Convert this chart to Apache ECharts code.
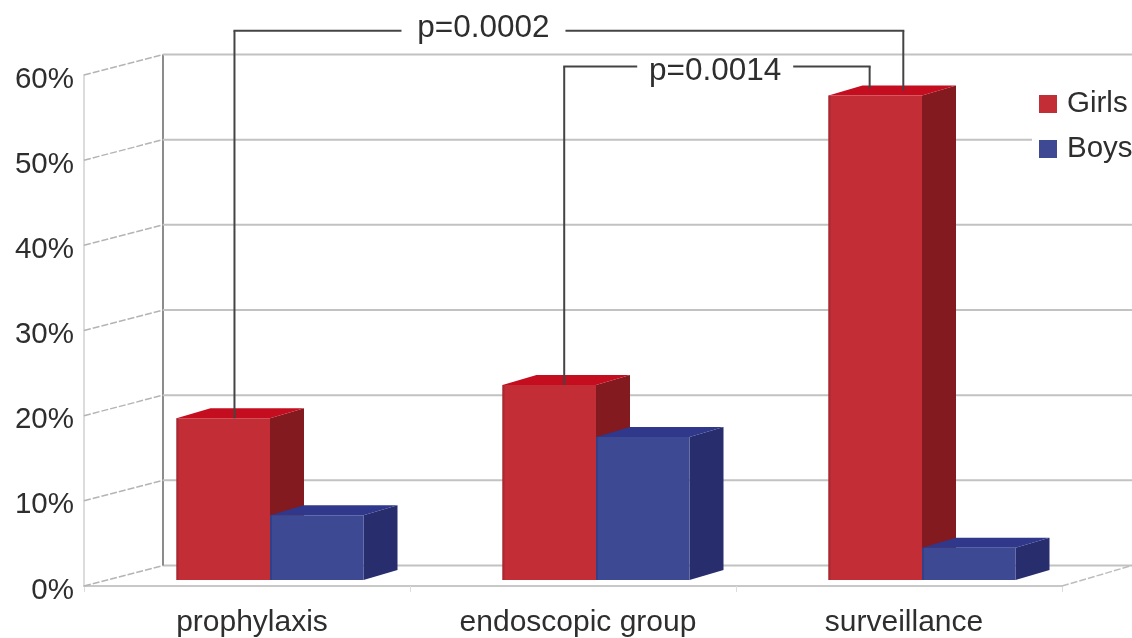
<!DOCTYPE html>
<html><head><meta charset="utf-8">
<style>html,body{margin:0;padding:0;background:#fff}#c{width:1132px;height:638px;filter:blur(0.6px)}</style>
<script src="https://cdn.jsdelivr.net/npm/echarts@6/dist/echarts.min.js"></script>
</head><body><div id="c"></div>
<script>
const categories = ['prophylaxis', 'endoscopic group', 'surveillance'];
const girls = [19, 22.9, 56.9];
const boys = [7.6, 16.8, 3.8];
const yTicks = [0, 10, 20, 30, 40, 50, 60];
const pValues = ['p=0.0002', 'p=0.0014'];
const bracketFromCategory = [0, 1];
const bracketToCategory = [2, 2];
const bracketLevels = [65.2, 61];

const FONT = '"Liberation Sans", Arial, sans-serif';
const FONT_SIZE = 29.5;
const TEXT = '#2e2e2e';
const WALL_DX = 79, WALL_DY = -20.5;
const BAR_W = 93.5, BAR_DX = 34, BAR_DY = -10, GROUP_SHIFT = 23, GROUND = -6;
const redFace = { front: '#c32d36', side: '#831a1f', top: '#c40d1e', edge: '#a52a33' };
const blueFace = { front: '#3d4a93', side: '#272d6d', top: '#2f388a', edge: '#333f86' };

function box(x0, y0, yTop, c) {
  const x1 = x0 + BAR_W;
  const poly = (points, fill) => ({ type: 'polygon', shape: { points }, style: { fill }, silent: true });
  return {
    type: 'group',
    children: [
      poly([[x1, y0], [x1 + BAR_DX, y0 + BAR_DY], [x1 + BAR_DX, yTop + BAR_DY], [x1, yTop]], c.side),
      poly([[x0, yTop], [x0 + BAR_DX, yTop + BAR_DY], [x1 + BAR_DX, yTop + BAR_DY], [x1, yTop]], c.top),
      { type: 'rect', shape: { x: x0, y: yTop, width: BAR_W, height: y0 - yTop }, style: { fill: c.front }, silent: true },
      { type: 'rect', shape: { x: x0, y: yTop, width: 2, height: y0 - yTop }, style: { fill: c.edge }, silent: true }
    ]
  };
}
const barRenderer = (faces, startOffset) => (params, api) => {
  const base = api.coord([api.value(0), 0]);
  const top = api.coord([api.value(0), api.value(1)]);
  const left = base[0] + GROUP_SHIFT + startOffset;
  return box(left, base[1] + GROUND, top[1] + GROUND, faces);
};

const seg = (x1, y1, x2, y2, stroke, lineWidth, lineDash) => ({
  type: 'line', shape: { x1, y1, x2, y2 }, silent: true,
  style: { stroke, lineWidth, lineDash: lineDash || null }
});

function wallRenderer(params, api) {
  const tick = api.value(0);
  const p = api.coord([0, tick]);
  const x = params.coordSys.x, xEnd = x + params.coordSys.width;
  const wx = x + WALL_DX, wy = p[1] + WALL_DY;
  const children = [
    seg(x, p[1], wx, wy, '#b4b4b4', 1.5, [7, 2]),
    seg(wx, wy, 1132, wy, '#c2c2c2', 2)
  ];
  if (tick === yTicks[0]) {
    const top = api.coord([0, yTicks[yTicks.length - 1]]);
    children.push(seg(wx, top[1] + WALL_DY, wx, wy, '#8c8c8c', 2));
    children.push(seg(xEnd, p[1], 1132, wy, '#bdbdbd', 1.5, [7, 2]));
  }
  return { type: 'group', children };
}

const bracketLayout = [
  { fromFrac: 0.62, toFrac: 0.80, textShift: 249, gap: 82, toLift: 5, textDy: -2 },
  { fromFrac: 0.66, toFrac: 0.44, textShift: 151, gap: 78, toLift: 7, textDy: 5 }
];
function bracketRenderer(params, api) {
  const i = params.dataIndex, L = bracketLayout[i];
  const from = api.value(0), to = api.value(1), level = api.value(2);
  const redLeft = c => api.coord([c, 0])[0] + GROUP_SHIFT - BAR_W;
  const xa = redLeft(from) + L.fromFrac * BAR_W;
  const xb = redLeft(to) + L.toFrac * BAR_W;
  const ya = api.coord([from, girls[from]])[1] + GROUND;
  const yb = api.coord([to, girls[to]])[1] + GROUND - L.toLift;
  const y = api.coord([from, level])[1];
  const xt = xa + L.textShift;
  const ink = '#444444';
  return {
    type: 'group',
    children: [
      seg(xa, ya, xa, y, ink, 2),
      seg(xa - 1, y, xt - L.gap, y, ink, 2),
      seg(xt + L.gap, y, xb + 1, y, ink, 2),
      seg(xb, y, xb, yb, ink, 2),
      { type: 'text', silent: true, style: { x: xt, y: y + L.textDy, text: pValues[i], align: 'center', verticalAlign: 'middle', fill: TEXT, font: '31.5px ' + FONT } }
    ]
  };
}

const option = {
  animation: false,
  backgroundColor: '#ffffff',
  textStyle: { fontFamily: FONT },
  tooltip: { show: false },
  grid: { left: 84, right: 70, top: 75, bottom: 51, containLabel: false },
  legend: {
    orient: 'vertical', left: 1032, top: 81, padding: [8, 0, 8, 7],
    backgroundColor: '#ffffff', itemWidth: 18, itemHeight: 18, itemGap: 15,
    icon: 'rect', selectedMode: false,
    textStyle: { fontFamily: FONT, fontSize: FONT_SIZE, color: TEXT, padding: [4, 0, 0, 5], lineHeight: 18 },
    data: ['Girls', 'Boys']
  },
  xAxis: {
    type: 'category', data: categories,
    axisLine: { lineStyle: { color: '#c8c8c8', width: 2 } },
    axisTick: { show: true, length: 6, lineStyle: { color: '#dddddd', width: 1 } },
    axisLabel: { color: TEXT, fontFamily: FONT, fontSize: 30, margin: 22, padding: [0, 0, 0, 10] }
  },
  yAxis: {
    type: 'value', min: yTicks[0], max: yTicks[yTicks.length - 1], interval: 10,
    splitLine: { show: false },
    axisLine: { show: true, lineStyle: { color: '#dcdcdc', width: 2 } },
    axisTick: { show: false },
    axisLabel: { color: TEXT, fontFamily: FONT, fontSize: FONT_SIZE, margin: 10, verticalAlign: 'top', lineHeight: 9, formatter: '{value}%' }
  },
  series: [
    { name: 'wall', type: 'custom', z: 1, silent: true, renderItem: wallRenderer, data: yTicks.map(t => [t]), encode: { y: 0 } },
    { name: 'Girls', type: 'custom', z: 3, silent: true, renderItem: barRenderer(redFace, -BAR_W), itemStyle: { color: redFace.front },
      data: categories.map((c, i) => [i, girls[i]]), encode: { x: 0, y: 1 } },
    { name: 'Boys', type: 'custom', z: 4, silent: true, renderItem: barRenderer(blueFace, 0), itemStyle: { color: blueFace.front },
      data: categories.map((c, i) => [i, boys[i]]), encode: { x: 0, y: 1 } },
    { name: 'p', type: 'custom', z: 5, silent: true, renderItem: bracketRenderer,
      data: bracketLevels.map((l, i) => [bracketFromCategory[i], bracketToCategory[i], l]), encode: { x: 0, y: 2 } }
  ]
};
echarts.init(document.getElementById('c'), null, { renderer: 'canvas' }).setOption(option);
</script></body></html>
